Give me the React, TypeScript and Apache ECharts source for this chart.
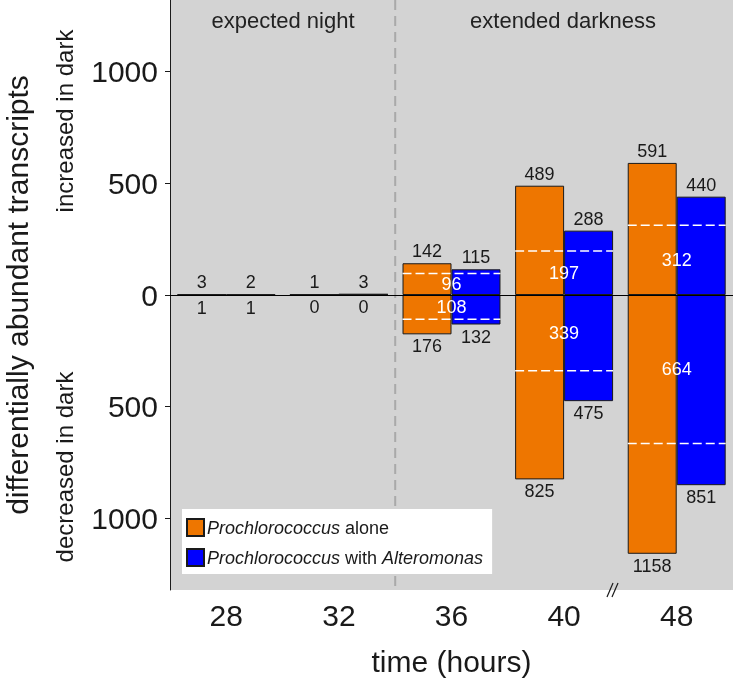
import React, { useEffect, useRef } from "react";
import * as echarts from "echarts";

// ---- data ----
const categories = ["28", "32", "36", "40", "48"];
const aloneUp = [3, 1, 142, 489, 591];
const aloneDown = [1, 0, 176, 825, 1158];
const withUp = [2, 3, 115, 288, 440];
const withDown = [1, 0, 132, 475, 851];
const sharedUp: (number | null)[] = [null, null, 96, 197, 312];
const sharedDown: (number | null)[] = [null, null, 108, 339, 664];
const yTicks = [-1000, -500, 0, 500, 1000];
const seriesNames = ["Prochlorococcus alone", "Prochlorococcus with Alteromonas"];
const periodLabels = ["expected night", "extended darkness"];

const FONT = "'Liberation Sans', Arial, Helvetica, sans-serif";
const BAR_FRAC = 0.435;
const TEXT = "#1a1a1a";

export default function App() {
  const ref = useRef<HTMLDivElement>(null);
  useEffect(() => {
    if (!ref.current) return;
    const chart = echarts.init(ref.current, null, { renderer: "svg" });

    const barCommon = (name: string, color: string, stack: string) => ({
      type: "bar",
      name,
      stack,
      barWidth: BAR_FRAC * 100 + "%",
      barGap: "0%",
      itemStyle: { color, borderColor: TEXT, borderWidth: 1 },
      z: 2,
    });
    const topLabel = {
      show: true,
      position: "top",
      distance: 3,
      color: TEXT,
      fontSize: 18,
      fontFamily: FONT,
      formatter: (p: any) => String(Math.abs(p.value)),
    };
    const bottomLabel = { ...topLabel, position: "bottom" };

    const sharedData = categories
      .map((_, i) => (sharedUp[i] == null ? null : [i, sharedUp[i], -(sharedDown[i] as number)]))
      .filter((d) => d != null);

    const option: any = {
      animation: false,
      textStyle: { fontFamily: FONT },
      grid: {
        left: 170,
        right: 0,
        top: 0,
        bottom: 90,
        outerBoundsMode: "none",
        containLabel: false,
        show: true,
        backgroundColor: "#d3d3d3",
        borderWidth: 0,
      },
      legend: {
        data: seriesNames,
        orient: "vertical",
        left: 182,
        top: 509,
        padding: [9, 9, 7, 4],
        itemGap: 11,
        itemWidth: 17,
        itemHeight: 17,
        icon: "rect",
        backgroundColor: "#ffffff",
        selectedMode: false,
        formatter: (name: string) =>
          name === seriesNames[0]
            ? "{i|Prochlorococcus} alone"
            : "{i|Prochlorococcus} with {i|Alteromonas}",
        textStyle: {
          fontSize: 18,
          color: TEXT,
          fontFamily: FONT,
          padding: [0, 0, 0, -2],
          rich: {
            i: { fontStyle: "italic", fontSize: 18, color: TEXT, fontFamily: FONT },
          },
        },
      },
      xAxis: {
        type: "category",
        data: categories,
        axisLine: { show: false },
        axisTick: { show: false },
        axisLabel: { fontSize: 30, color: TEXT, margin: 10, fontFamily: FONT },
        name: "time (hours)",
        nameLocation: "middle",
        nameGap: 56,
        nameTextStyle: { fontSize: 30, color: TEXT, fontFamily: FONT },
      },
      yAxis: {
        type: "value",
        min: -1320,
        max: 1320,
        axisLine: { show: true, lineStyle: { color: TEXT, width: 1 } },
        axisTick: { show: true, length: 5, customValues: yTicks, lineStyle: { color: TEXT } },
        axisLabel: {
          customValues: yTicks,
          fontSize: 30,
          color: TEXT,
          margin: 12,
          fontFamily: FONT,
          formatter: (v: number) => String(Math.abs(v)),
        },
        splitLine: { show: false },
        name: "differentially abundant transcripts",
        nameLocation: "middle",
        nameGap: 138,
        nameRotate: 90,
        nameTextStyle: { fontSize: 30, color: TEXT, fontFamily: FONT },
      },
      series: [
        {
          ...barCommon(seriesNames[0], "#ee7600", "alone"),
          data: aloneUp,
          label: topLabel,
          markLine: {
            silent: true,
            symbol: "none",
            label: { show: false },
            lineStyle: { color: "#000", width: 1, type: "solid" },
            data: [{ yAxis: 0 }],
            z: 4,
          },
        },
        {
          ...barCommon(seriesNames[0], "#ee7600", "alone"),
          data: aloneDown.map((v) => -v),
          label: bottomLabel,
        },
        {
          ...barCommon(seriesNames[1], "#0000ff", "with"),
          data: withUp,
          label: topLabel,
        },
        {
          ...barCommon(seriesNames[1], "#0000ff", "with"),
          data: withDown.map((v) => -v),
          label: bottomLabel,
        },
        {
          type: "custom",
          name: "shared",
          z: 5,
          encode: { x: 0, y: [1, 2] },
          data: sharedData,
          renderItem: (params: any, api: any) => {
            const i = api.value(0);
            const up = api.value(1);
            const down = api.value(2);
            const c = api.coord([i, 0]);
            const half = api.size([1, 0])[0] * BAR_FRAC;
            const yUp = api.coord([i, up])[1];
            const yDown = api.coord([i, down])[1];
            const yUpMid = api.coord([i, up / 2])[1];
            const yDownMid = api.coord([i, down / 2])[1];
            const lineStyle = { stroke: "#ffffff", lineWidth: 1.5, lineDash: [9, 4] };
            const txt = (t: string, y: number) => ({
              type: "text",
              x: c[0],
              y,
              style: {
                text: t,
                fill: "#ffffff",
                fontSize: 18,
                fontFamily: FONT,
                align: "center",
                verticalAlign: "middle",
              },
            });
            return {
              type: "group",
              children: [
                { type: "line", shape: { x1: c[0] - half, y1: yUp, x2: c[0] + half, y2: yUp }, style: lineStyle },
                { type: "line", shape: { x1: c[0] - half, y1: yDown, x2: c[0] + half, y2: yDown }, style: lineStyle },
                txt(String(Math.abs(up)), yUpMid),
                txt(String(Math.abs(down)), yDownMid),
              ],
            };
          },
        },
        {
          type: "custom",
          name: "divider",
          z: 1,
          silent: true,
          encode: { x: [0, 1], y: 2 },
          data: [[1, 2, 0]],
          renderItem: (params: any, api: any) => {
            const x = (api.coord([api.value(0), 0])[0] + api.coord([api.value(1), 0])[0]) / 2;
            const cs = params.coordSys;
            return {
              type: "line",
              shape: { x1: x, y1: cs.y, x2: x, y2: cs.y + cs.height },
              style: { stroke: "#a9a9a9", lineWidth: 2, lineDash: [10, 6] },
            };
          },
        },
      ],
      graphic: [
        {
          type: "text",
          x: 283,
          y: 20,
          style: { text: periodLabels[0], fontSize: 22, fill: "#222", fontFamily: FONT, align: "center", verticalAlign: "middle" },
        },
        {
          type: "text",
          x: 563,
          y: 20,
          style: { text: periodLabels[1], fontSize: 22, fill: "#222", fontFamily: FONT, align: "center", verticalAlign: "middle" },
        },
        {
          type: "text",
          x: 64,
          y: 121,
          rotation: Math.PI / 2,
          style: { text: "increased in dark", fontSize: 24, fill: TEXT, fontFamily: FONT, align: "center", verticalAlign: "middle" },
        },
        {
          type: "text",
          x: 64,
          y: 467,
          rotation: Math.PI / 2,
          style: { text: "decreased in dark", fontSize: 24, fill: TEXT, fontFamily: FONT, align: "center", verticalAlign: "middle" },
        },
        {
          type: "line",
          shape: { x1: 607, y1: 597, x2: 613, y2: 583 },
          style: { stroke: TEXT, lineWidth: 1.2 },
        },
        {
          type: "line",
          shape: { x1: 612, y1: 597, x2: 618, y2: 583 },
          style: { stroke: TEXT, lineWidth: 1.2 },
        },
      ],
    };
    chart.setOption(option);
    return () => chart.dispose();
  }, []);
  return (
    <div
      ref={ref}
      style={{ position: "fixed", left: 0, top: 0, width: 733, height: 680 }}
    />
  );
}
